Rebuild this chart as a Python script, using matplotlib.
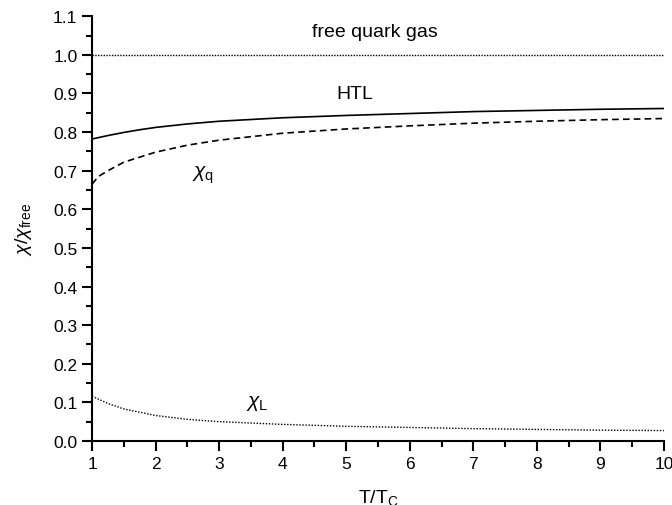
import numpy as np
import matplotlib
matplotlib.use("Agg")
import matplotlib.pyplot as plt
from matplotlib.ticker import MultipleLocator

plt.rcParams["font.family"] = ["Liberation Sans", "DejaVu Sans"]
plt.rcParams["mathtext.fontset"] = "custom"
plt.rcParams["mathtext.rm"] = "Liberation Sans"
plt.rcParams["mathtext.it"] = "Liberation Sans:italic"
plt.rcParams["mathtext.bf"] = "Liberation Sans:bold"

# T/Tc sample points
t_htl = [1.0, 1.25, 1.5, 1.75, 2.0, 2.5, 3.0, 4.0, 5.0, 6.0, 7.0, 8.0, 9.0, 10.0]
htl = [0.782, 0.791, 0.799, 0.806, 0.812, 0.821, 0.828, 0.837, 0.843, 0.848, 0.853, 0.856, 0.859, 0.861]

t_q = [1.0, 1.1, 1.25, 1.5, 2.0, 2.5, 3.0, 4.0, 5.0, 6.0, 7.0, 8.0, 9.0, 10.0]
chi_q = [0.665, 0.685, 0.700, 0.722, 0.748, 0.766, 0.779, 0.797, 0.808, 0.816, 0.823, 0.828, 0.832, 0.835]

t_l = [1.0, 1.25, 1.5, 2.0, 2.5, 3.0, 4.0, 5.0, 6.0, 7.0, 8.0, 9.0, 10.0]
chi_l = [0.116, 0.097, 0.083, 0.066, 0.056, 0.050, 0.043, 0.038, 0.035, 0.032, 0.030, 0.028, 0.027]

free_t = [1.0, 10.0]
free_val = [1.0, 1.0]

fig = plt.figure(figsize=(6.72, 5.06), dpi=100)
ax = fig.add_axes([0.137, 0.1265, 0.851, 0.8395])

ax.plot(free_t, free_val, color="black", linestyle=(0, (1, 1)), linewidth=1.0)
ax.plot(t_htl, htl, color="black", linestyle="-", linewidth=1.2)
ax.plot(t_q, chi_q, color="black", linestyle=(0, (4, 2.5)), linewidth=1.2)
ax.plot(t_l, chi_l, color="black", linestyle=(0, (1, 1.2)), linewidth=1.0)

ax.text(5.45, 1.06, "free quark gas", fontsize=14, ha="center", va="center")
ax.text(5.14, 0.90, "HTL", fontsize=14, ha="center", va="center")
ax.text(2.75, 0.69, r"$\chi_{\mathrm{q}}$", fontsize=15, ha="center", va="center")
ax.text(3.6, 0.10, r"$\chi_{\mathrm{L}}$", fontsize=15, ha="center", va="center")

ax.set_xlim(1, 10)
ax.set_ylim(0, 1.1)
ax.xaxis.set_major_locator(MultipleLocator(1))
ax.xaxis.set_minor_locator(MultipleLocator(0.5))
ax.yaxis.set_major_locator(MultipleLocator(0.1))
ax.yaxis.set_minor_locator(MultipleLocator(0.05))
ax.yaxis.set_major_formatter(matplotlib.ticker.FormatStrFormatter("%.1f"))

for side in ["top", "right"]:
    ax.spines[side].set_visible(False)
for side in ["left", "bottom"]:
    ax.spines[side].set_linewidth(1.5)

ax.tick_params(which="major", direction="out", length=7, width=1.5, labelsize=12.5)
ax.tick_params(which="minor", direction="out", length=4, width=1.5)

ax.set_xlabel(r"T/T$_{\mathrm{C}}$", fontsize=14, labelpad=12)
ax.set_ylabel(r"$\chi$/$\chi_{\mathrm{free}}$", fontsize=14, labelpad=14)

fig.savefig("out.png", dpi=100)
